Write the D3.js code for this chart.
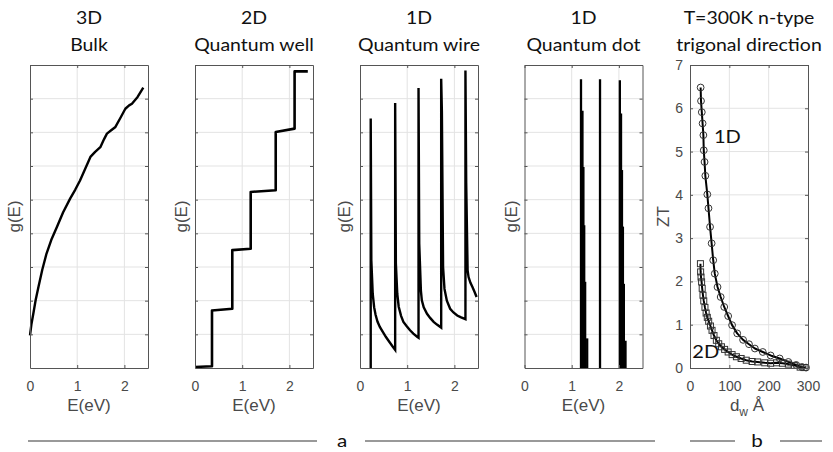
<!DOCTYPE html>
<html>
<head>
<meta charset="utf-8">
<script src="https://cdn.jsdelivr.net/npm/d3@7"></script>
<style>
  body { margin: 0; background: #fff; }
  svg { display: block; }
</style>
</head>
<body>
<svg id="chart" width="833" height="452"></svg>
<script>
// ---- tick values ----
const energyTicks = [0, 1, 2];
const dosTicks = [1, 2, 3, 4, 5, 6, 7, 8];
const widthTicks = [0, 100, 200, 300];
const ztTicks = [0, 1, 2, 3, 4, 5, 6, 7];

// ---- panel titles ----
const panelTitles = [
  ["3D", "Bulk"],
  ["2D", "Quantum well"],
  ["1D", "Quantum wire"],
  ["1D", "Quantum dot"],
  ["T=300K n-type", "trigonal direction"]
];

// ---- 3D bulk density of states ----
const bulkEnergy = [0.00, 0.03, 0.07, 0.12, 0.18, 0.26, 0.35, 0.45, 0.57, 0.70, 0.85, 0.96, 1.06, 1.17, 1.28, 1.38, 1.49, 1.57, 1.63, 1.72, 1.81, 1.92, 2.02, 2.10, 2.16, 2.28, 2.40];
const bulkDos    = [0.97, 1.30, 1.61, 2.02, 2.41, 2.92, 3.40, 3.80, 4.19, 4.62, 5.03, 5.30, 5.57, 5.92, 6.27, 6.42, 6.56, 6.80, 6.96, 7.06, 7.16, 7.44, 7.70, 7.80, 7.85, 8.05, 8.33];

// ---- 2D quantum well (staircase) ----
const wellEnergy = [0.00, 0.36, 0.36, 0.79, 0.79, 1.18, 1.18, 1.71, 1.71, 2.11, 2.11, 2.39];
const wellDos    = [0.03, 0.05, 1.71, 1.76, 3.50, 3.54, 5.23, 5.28, 7.01, 7.11, 8.81, 8.81];

// ---- 1D quantum wire (van Hove peaks) ----
const wireEnergy = [0.227, 0.227, 0.24, 0.27, 0.30, 0.33, 0.37, 0.42, 0.48, 0.55, 0.62, 0.68, 0.745,
                    0.745, 0.76, 0.79, 0.82, 0.87, 0.92, 0.99, 1.06, 1.13, 1.21, 1.24,
                    1.24, 1.255, 1.29, 1.31, 1.35, 1.42, 1.49, 1.56, 1.63, 1.72,
                    1.72, 1.735, 1.76, 1.79, 1.84, 1.91, 1.98, 2.06, 2.13, 2.234,
                    2.234, 2.25, 2.28, 2.30, 2.34, 2.38, 2.43, 2.47];
const wireDos    = [0.00, 7.41, 3.20, 2.20, 1.80, 1.58, 1.38, 1.22, 1.08, 0.92, 0.78, 0.66, 0.54,
                    7.87, 3.10, 2.20, 1.82, 1.55, 1.37, 1.24, 1.12, 1.02, 0.93, 0.90,
                    8.32, 3.70, 2.30, 2.01, 1.80, 1.61, 1.48, 1.37, 1.29, 1.20,
                    8.59, 7.60, 3.00, 2.35, 2.00, 1.76, 1.65, 1.56, 1.51, 1.45,
                    8.84, 5.50, 2.90, 2.70, 2.53, 2.41, 2.25, 2.11];

// ---- 0D quantum dot (discrete levels) ----
const dotEnergy = [1.197, 1.228, 1.248, 1.265, 1.285, 1.328, 1.600, 2.020, 2.045, 2.065, 2.085, 2.105, 2.140];
const dotDos    = [8.58, 7.64, 5.97, 4.24, 2.56, 0.88, 8.58, 8.55, 7.56, 5.88, 4.20, 2.50, 0.81];

// ---- ZT vs wire / well width ----
const zt1dWidth = [27, 28, 30, 32, 34, 35, 37, 39, 44, 47, 51, 55, 59, 63, 70, 78, 87, 97, 107, 120, 135, 150, 165, 185, 205, 228, 250, 270, 285, 295];
const zt1dValue = [6.48, 6.17, 5.91, 5.65, 5.38, 5.03, 4.76, 4.44, 4.01, 3.69, 3.26, 2.88, 2.49, 2.18, 1.87, 1.64, 1.41, 1.20, 0.99, 0.80, 0.65, 0.55, 0.45, 0.37, 0.29, 0.22, 0.14, 0.07, 0.02, 0.01];
const zt2dWidth = [26.5, 27, 28, 29.5, 31, 33, 35, 38, 41, 44, 47.5, 52, 56, 61, 67, 73, 80, 88, 97, 107, 118, 130, 143, 158, 172, 190, 205, 220, 235, 250, 265, 280, 290];
const zt2dValue = [2.41, 2.22, 2.10, 1.99, 1.84, 1.68, 1.55, 1.40, 1.27, 1.17, 1.08, 0.97, 0.87, 0.75, 0.64, 0.56, 0.49, 0.43, 0.37, 0.31, 0.26, 0.22, 0.18, 0.15, 0.14, 0.12, 0.11, 0.12, 0.11, 0.09, 0.06, 0.02, 0.01];

// ---- layout ----
const svg = d3.select("#chart");
const lefts = [30, 195, 360, 524.5, 690];
const PW = 118, TOP = 65, BOTTOM = 368;
const labelFont = "'Liberation Sans', Arial, sans-serif";
const titleFont = "Lato, 'Open Sans', sans-serif";
const axisColor = "#555";
const gridColor = "#e3e3e3";
const intFmt = d3.format("d");

// Wide humanist caption text, stretched horizontally around its anchor
function caption(parent, x, y, text, size) {
  return parent.append("text")
    .attr("transform", `translate(${x},${y}) scale(1.18,1)`)
    .attr("text-anchor", "middle")
    .style("font-family", titleFont).style("font-size", (size || 16.5) + "px")
    .attr("fill", "#111")
    .text(text);
}

function makePanel(i, xDomain, yDomain, xTicks, yTicks, showY) {
  const x = d3.scaleLinear().domain(xDomain).range([lefts[i], lefts[i] + PW]);
  const y = d3.scaleLinear().domain(yDomain).range([BOTTOM, TOP]);
  const g = svg.append("g");

  const grid = g.append("g");
  grid.selectAll("line.gx")
    .data(xTicks.filter(v => v > xDomain[0] && v < xDomain[1]))
    .join("line")
    .attr("x1", d => x(d)).attr("x2", d => x(d))
    .attr("y1", TOP).attr("y2", BOTTOM)
    .attr("stroke", gridColor).attr("stroke-width", 1);
  grid.selectAll("line.gy")
    .data(yTicks.filter(v => v > yDomain[0] && v < yDomain[1]))
    .join("line")
    .attr("x1", x.range()[0]).attr("x2", x.range()[1])
    .attr("y1", d => y(d)).attr("y2", d => y(d))
    .attr("stroke", gridColor).attr("stroke-width", 1);

  const data = g.append("g");

  const axes = g.append("g");
  const styleAxis = sel => {
    sel.select(".domain").attr("stroke", axisColor).attr("stroke-width", 1);
    sel.selectAll(".tick line").attr("stroke", axisColor).attr("stroke-width", 1);
    sel.selectAll(".tick text").attr("fill", "#4a4a4a")
      .style("font-family", labelFont).style("font-size", "14px");
  };
  axes.append("g").attr("transform", `translate(0,${BOTTOM})`)
    .call(d3.axisBottom(x).tickValues(xTicks).tickFormat(intFmt)
      .tickSizeInner(-3).tickSizeOuter(0).tickPadding(13))
    .call(styleAxis);
  axes.append("g").attr("transform", `translate(0,${TOP})`)
    .call(d3.axisTop(x).tickValues(xTicks).tickSizeInner(-3).tickSizeOuter(0).tickFormat(""))
    .call(styleAxis);
  const left = d3.axisLeft(y).tickValues(yTicks).tickSizeInner(-3).tickSizeOuter(0).tickPadding(7)
    .tickFormat(showY ? intFmt : "");
  axes.append("g").attr("transform", `translate(${x.range()[0]},0)`).call(left).call(styleAxis);
  axes.append("g").attr("transform", `translate(${x.range()[1]},0)`)
    .call(d3.axisRight(y).tickValues(yTicks).tickSizeInner(-3).tickSizeOuter(0).tickFormat(""))
    .call(styleAxis);

  // titles
  const cx = (x.range()[0] + x.range()[1]) / 2;
  caption(svg, cx, 24, panelTitles[i][0]);
  caption(svg, cx, 51, panelTitles[i][1]);

  return { x, y, data, cx };
}

function yLabel(px, text) {
  svg.append("text")
    .attr("transform", `translate(${px},${(TOP + BOTTOM) / 2}) rotate(-90)`)
    .attr("text-anchor", "middle").attr("dy", "0.35em")
    .style("font-family", labelFont).style("font-size", "17px").attr("fill", "#4a4a4a")
    .text(text);
}
function xLabel(cx, text) {
  svg.append("text").attr("x", cx).attr("y", 411).attr("text-anchor", "middle")
    .style("font-family", labelFont).style("font-size", "17px").attr("fill", "#4a4a4a")
    .text(text);
}

const lineStyle = sel => sel.attr("fill", "none").attr("stroke", "#000")
  .attr("stroke-width", 2.4).attr("stroke-linejoin", "round");

// Panel 1: bulk
{
  const p = makePanel(0, [0, 2.5], [0, 9], energyTicks, dosTicks, false);
  const line = d3.line().x((d, k) => p.x(bulkEnergy[k])).y((d, k) => p.y(bulkDos[k]));
  p.data.append("path").attr("d", line(bulkEnergy)).call(lineStyle);
  yLabel(lefts[0] - 16, "g(E)");
  xLabel(p.cx, "E(eV)");
}
// Panel 2: quantum well
{
  const p = makePanel(1, [0, 2.5], [0, 9], energyTicks, dosTicks, false);
  const line = d3.line().x((d, k) => p.x(wellEnergy[k])).y((d, k) => p.y(wellDos[k]));
  p.data.append("path").attr("d", line(wellEnergy)).call(lineStyle).attr("stroke-width", 2.6);
  yLabel(lefts[1] - 14, "g(E)");
  xLabel(p.cx, "E(eV)");
}
// Panel 3: quantum wire
{
  const p = makePanel(2, [0, 2.5], [0, 9], energyTicks, dosTicks, false);
  const line = d3.line().x((d, k) => p.x(wireEnergy[k])).y((d, k) => p.y(wireDos[k]));
  p.data.append("path").attr("d", line(wireEnergy)).call(lineStyle).attr("stroke-linejoin", "miter");
  yLabel(lefts[2] - 16, "g(E)");
  xLabel(p.cx, "E(eV)");
}
// Panel 4: quantum dot
{
  const p = makePanel(3, [0, 2.5], [0, 9], energyTicks, dosTicks, false);
  p.data.selectAll("line").data(dotEnergy).join("line")
    .attr("x1", d => p.x(d)).attr("x2", d => p.x(d))
    .attr("y1", p.y(0)).attr("y2", (d, k) => p.y(dotDos[k]))
    .attr("stroke", "#000").attr("stroke-width", 2.3);
  yLabel(lefts[3] - 13, "g(E)");
  xLabel(p.cx, "E(eV)");
}
// Panel 5: ZT vs width
{
  const p = makePanel(4, [0, 300], [0, 7], widthTicks, ztTicks, true);
  const l1 = d3.line().x((d, k) => p.x(zt1dWidth[k])).y((d, k) => p.y(zt1dValue[k]));
  const l2 = d3.line().x((d, k) => p.x(zt2dWidth[k])).y((d, k) => p.y(zt2dValue[k]));
  p.data.append("path").attr("d", l2(zt2dWidth)).call(lineStyle).attr("stroke-width", 2);
  p.data.append("path").attr("d", l1(zt1dWidth)).call(lineStyle).attr("stroke-width", 2);
  p.data.selectAll("rect").data(zt2dWidth).join("rect")
    .attr("x", d => p.x(d) - 3).attr("y", (d, k) => p.y(zt2dValue[k]) - 3)
    .attr("width", 6).attr("height", 6)
    .attr("fill", "none").attr("stroke", "#333").attr("stroke-width", 1);
  p.data.selectAll("circle").data(zt1dWidth).join("circle")
    .attr("cx", d => p.x(d)).attr("cy", (d, k) => p.y(zt1dValue[k])).attr("r", 3.4)
    .attr("fill", "none").attr("stroke", "#333").attr("stroke-width", 1);
  caption(p.data, p.x(95), p.y(5.19), "1D", 17);
  caption(p.data, p.x(40), p.y(0.22), "2D", 17);
  yLabel(663, "ZT");
  const t = svg.append("text").attr("x", p.cx - 2).attr("y", 411).attr("text-anchor", "middle")
    .style("font-family", labelFont).style("font-size", "17px").attr("fill", "#4a4a4a");
  t.append("tspan").text("d");
  t.append("tspan").attr("dy", 5).style("font-size", "12px").text("w");
  t.append("tspan").attr("dy", -5).text(" Å");
}

// Sub-figure markers along the bottom
const ruleY = 441;
[[28, 317], [365, 655], [690, 735], [780, 822]].forEach(([a, b]) => {
  svg.append("line").attr("x1", a).attr("x2", b).attr("y1", ruleY).attr("y2", ruleY)
    .attr("stroke", "#777").attr("stroke-width", 1.4);
});
[["a", 342], ["b", 757]].forEach(([s, px]) => caption(svg, px, 447, s, 17.5));
</script>
</body>
</html>
